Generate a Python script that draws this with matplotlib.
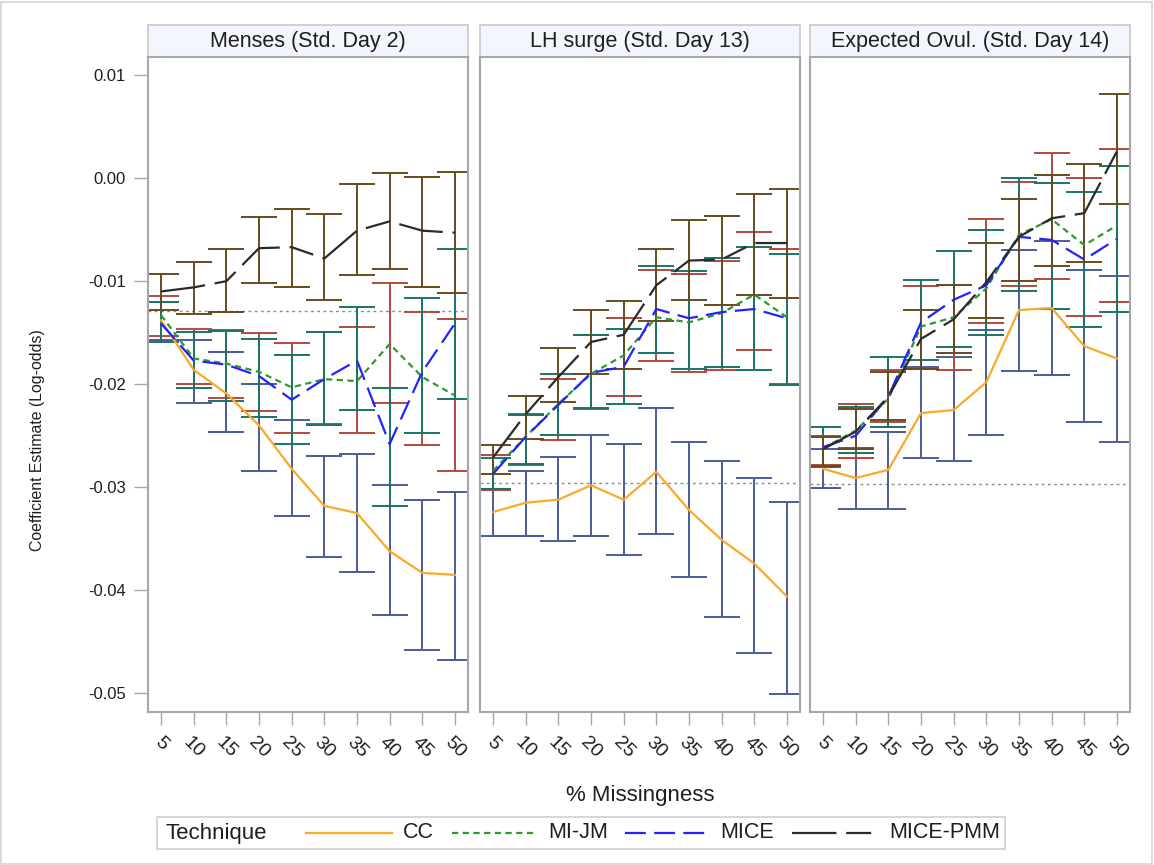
import matplotlib
matplotlib.use("Agg")
import matplotlib.pyplot as plt
from matplotlib.lines import Line2D
from matplotlib.patches import Rectangle
import numpy as np

plt.rcParams['font.family'] = ['Liberation Sans', 'DejaVu Sans']
plt.rcParams['lines.scale_dashes'] = False

# ---------------- data ----------------
missing = [5, 10, 15, 20, 25, 30, 35, 40, 45, 50]
panels = ["Menses (Std. Day 2)", "LH surge (Std. Day 13)", "Expected Ovul. (Std. Day 14)"]
techniques = ["CC", "MI-JM", "MICE", "MICE-PMM"]
true_values = [-0.01285, -0.0296, -0.0297]

# Menses
men_cc_est = [-0.0138, -0.0186, -0.0209, -0.0240, -0.0282, -0.0318, -0.0325, -0.0362, -0.0383, -0.0385]
men_cc_lo = [-0.0157, -0.0218, -0.0246, -0.0284, -0.0328, -0.0368, -0.0382, -0.0424, -0.0458, -0.0468]
men_cc_hi = [-0.0120, -0.0157, -0.0169, -0.0200, -0.0235, -0.0270, -0.0268, -0.0298, -0.0312, -0.0305]
men_jm_est = [-0.0133, -0.0175, -0.0180, -0.0188, -0.0203, -0.0195, -0.0197, -0.0161, -0.0193, -0.0211]
men_jm_lo = [-0.0153, -0.0200, -0.0213, -0.0226, -0.0247, -0.0239, -0.0247, -0.0218, -0.0259, -0.0284]
men_jm_hi = [-0.0114, -0.0146, -0.0147, -0.0150, -0.0160, -0.0149, -0.0144, -0.0102, -0.0130, -0.0137]
men_mi_est = [-0.0141, -0.0177, -0.0181, -0.0192, -0.0215, -0.0195, -0.0177, -0.0258, -0.0188, -0.0141]
men_mi_lo = [-0.0159, -0.0204, -0.0216, -0.0232, -0.0258, -0.0240, -0.0225, -0.0318, -0.0247, -0.0214]
men_mi_hi = [-0.0120, -0.0149, -0.0148, -0.0156, -0.0172, -0.0149, -0.0125, -0.0204, -0.0116, -0.0069]
men_pm_est = [-0.0110, -0.0106, -0.0100, -0.0068, -0.0067, -0.0078, -0.0051, -0.0042, -0.0051, -0.0053]
men_pm_lo = [-0.0128, -0.0132, -0.0130, -0.0102, -0.0106, -0.0118, -0.0094, -0.0088, -0.0106, -0.0111]
men_pm_hi = [-0.0093, -0.0081, -0.0069, -0.0038, -0.0030, -0.0035, -0.0006, 0.0005, 0.0001, 0.0006]

# LH surge
lh_cc_est = [-0.0324, -0.0315, -0.0312, -0.0298, -0.0312, -0.0285, -0.0322, -0.0351, -0.0374, -0.0406]
lh_cc_lo = [-0.0347, -0.0347, -0.0352, -0.0347, -0.0366, -0.0345, -0.0387, -0.0426, -0.0461, -0.0501]
lh_cc_hi = [-0.0302, -0.0284, -0.0271, -0.0249, -0.0258, -0.0223, -0.0256, -0.0274, -0.0291, -0.0314]
lh_jm_est = [-0.0284, -0.0251, -0.0219, -0.0190, -0.0172, -0.0135, -0.0140, -0.0131, -0.0113, -0.0135]
lh_jm_lo = [-0.0303, -0.0278, -0.0254, -0.0224, -0.0211, -0.0177, -0.0188, -0.0186, -0.0167, -0.0200]
lh_jm_hi = [-0.0269, -0.0229, -0.0195, -0.0152, -0.0136, -0.0089, -0.0093, -0.0080, -0.0052, -0.0069]
lh_mi_est = [-0.0287, -0.0251, -0.0220, -0.0189, -0.0183, -0.0127, -0.0136, -0.0130, -0.0127, -0.0136]
lh_mi_lo = [-0.0302, -0.0277, -0.0249, -0.0223, -0.0219, -0.0170, -0.0185, -0.0183, -0.0186, -0.0201]
lh_mi_hi = [-0.0272, -0.0230, -0.0190, -0.0152, -0.0146, -0.0085, -0.0090, -0.0078, -0.0067, -0.0074]
lh_pm_est = [-0.0271, -0.0229, -0.0193, -0.0159, -0.0152, -0.0104, -0.0080, -0.0079, -0.0063, -0.0063]
lh_pm_lo = [-0.0287, -0.0253, -0.0217, -0.0190, -0.0185, -0.0139, -0.0118, -0.0123, -0.0113, -0.0116]
lh_pm_hi = [-0.0259, -0.0211, -0.0165, -0.0128, -0.0119, -0.0069, -0.0041, -0.0037, -0.0015, -0.0011]

# Expected ovulation
ov_cc_est = [-0.0282, -0.0291, -0.0283, -0.0228, -0.0225, -0.0198, -0.0128, -0.0126, -0.0163, -0.0175]
ov_cc_lo = [-0.0301, -0.0321, -0.0321, -0.0272, -0.0274, -0.0249, -0.0187, -0.0191, -0.0237, -0.0256]
ov_cc_hi = [-0.0263, -0.0262, -0.0246, -0.0183, -0.0174, -0.0147, -0.0070, -0.0061, -0.0089, -0.0095]
ov_jm_est = [-0.0262, -0.0245, -0.0214, -0.0144, -0.0135, -0.0107, -0.0055, -0.0040, -0.0065, -0.0046]
ov_jm_lo = [-0.0278, -0.0272, -0.0237, -0.0185, -0.0186, -0.0141, -0.0105, -0.0098, -0.0134, -0.0120]
ov_jm_hi = [-0.0250, -0.0219, -0.0186, -0.0105, -0.0104, -0.0040, -0.0004, 0.0024, 0.0000, 0.0028]
ov_mi_est = [-0.0261, -0.0250, -0.0212, -0.0140, -0.0118, -0.0104, -0.0057, -0.0060, -0.0079, -0.0059]
ov_mi_lo = [-0.0280, -0.0267, -0.0241, -0.0176, -0.0164, -0.0152, -0.0110, -0.0127, -0.0144, -0.0130]
ov_mi_hi = [-0.0241, -0.0222, -0.0174, -0.0099, -0.0071, -0.0050, 0.0000, -0.0005, -0.0013, 0.0012]
ov_pm_est = [-0.0263, -0.0246, -0.0212, -0.0156, -0.0137, -0.0101, -0.0057, -0.0039, -0.0034, 0.0026]
ov_pm_lo = [-0.0279, -0.0263, -0.0235, -0.0185, -0.0170, -0.0136, -0.0100, -0.0085, -0.0081, -0.0025]
ov_pm_hi = [-0.0251, -0.0224, -0.0188, -0.0128, -0.0104, -0.0063, -0.0020, 0.0003, 0.0014, 0.0082]

panel_data = [
    [(men_cc_est, men_cc_lo, men_cc_hi), (men_jm_est, men_jm_lo, men_jm_hi),
     (men_mi_est, men_mi_lo, men_mi_hi), (men_pm_est, men_pm_lo, men_pm_hi)],
    [(lh_cc_est, lh_cc_lo, lh_cc_hi), (lh_jm_est, lh_jm_lo, lh_jm_hi),
     (lh_mi_est, lh_mi_lo, lh_mi_hi), (lh_pm_est, lh_pm_lo, lh_pm_hi)],
    [(ov_cc_est, ov_cc_lo, ov_cc_hi), (ov_jm_est, ov_jm_lo, ov_jm_hi),
     (ov_mi_est, ov_mi_lo, ov_mi_hi), (ov_pm_est, ov_pm_lo, ov_pm_hi)],
]

# ---------------- styles ----------------
line_colors = ["#FBA928", "#2E9A2E", "#2323FF", "#2B2B2B"]
bar_colors = ["#4C5B9E", "#B2493D", "#1A7468", "#6A4A1F"]
line_dashes = [None, (4.5, 3.2), (15.0, 6.0), (32.0, 7.0, 18.0, 7.0)]
frame_color = "#A4A8AC"
text_color = "#1E1E1E"

W, H = 1154, 865
fig = plt.figure(figsize=(W / 100, H / 100), dpi=100)
fig.add_artist(Rectangle((0.001, 0.001), 0.997, 0.997, transform=fig.transFigure,
                         fill=False, edgecolor="#D4D4D4", lw=1.2))

lefts = [148, 480, 810]
pw = 320
top_px, bot_px = 57, 712
axes = []
for i, title in enumerate(panels):
    ax = fig.add_axes([lefts[i] / W, 1 - bot_px / H, pw / W, (bot_px - top_px) / H])
    axes.append(ax)
    x = np.array(missing)
    # error bars
    for k, (est, lo, hi) in enumerate(panel_data[i]):
        est = np.array(est); lo = np.array(lo); hi = np.array(hi)
        ax.errorbar(x, est, yerr=[est - lo, hi - est], fmt='none', ecolor=bar_colors[k],
                    elinewidth=1.4, capsize=13, capthick=1.4, zorder=2)
    # reference line
    ax.axhline(true_values[i], color="#8C8C8C", lw=1.0, ls=(0, (2.0, 2.5)), zorder=1.5)
    # mean lines
    for k, (est, lo, hi) in enumerate(panel_data[i]):
        ln, = ax.plot(x, est, color=line_colors[k], lw=1.6, zorder=3)
        if line_dashes[k] is not None:
            ln.set_dashes(line_dashes[k])
    ax.set_xlim(3.0, 52.0)
    ax.set_ylim(-0.0518, 0.01175)
    ax.set_xticks(missing)
    ax.set_xticklabels([str(m) for m in missing], rotation=-45, ha='center', va='top',
                       fontsize=14, color=text_color)
    ax.tick_params(axis='x', length=9, width=1.0, color=frame_color, pad=7)
    if i == 0:
        ax.set_yticks([0.01, 0.0, -0.01, -0.02, -0.03, -0.04, -0.05])
        ax.set_yticklabels(["0.01", "0.00", "-0.01", "-0.02", "-0.03", "-0.04", "-0.05"],
                           fontsize=12, color=text_color)
        ax.tick_params(axis='y', length=10, width=1.0, color=frame_color, pad=6)
    else:
        ax.set_yticks([])
    for sp in ax.spines.values():
        sp.set_color(frame_color)
        sp.set_linewidth(1.5)
    # strip header
    sh = 32 / (bot_px - top_px)
    ax.add_patch(Rectangle((0, 1.0), 1, sh, transform=ax.transAxes, clip_on=False,
                           facecolor="#F4F6FD", edgecolor="#C6C9CE", lw=1.2))
    ax.text(0.5, 1.0 + sh / 2, title, transform=ax.transAxes, ha='center', va='center',
            fontsize=15.5, color=text_color)

fig.text(38 / W, 1 - 440 / H, "Coefficient Estimate (Log-odds)", rotation=90,
         ha='center', va='center', fontsize=11.4, color=text_color)
fig.text(640 / W, 1 - 795 / H, "% Missingness", ha='center', va='center',
         fontsize=16, color=text_color)

# legend box
lx0, lx1, ly0, ly1 = 157, 1005, 817, 849
fig.add_artist(Rectangle((lx0 / W, 1 - ly1 / H), (lx1 - lx0) / W, (ly1 - ly0) / H,
                         transform=fig.transFigure, fill=False, edgecolor="#CFCFCF", lw=1.2))
yc = 1 - 833 / H
fig.text(166 / W, yc, "Technique", ha='left', va='center', fontsize=16, color=text_color)
seg = [(306, 392), (452, 534), (625, 706), (792, 876)]
lab_x = [403, 548, 720, 889]
for k, tname in enumerate(techniques):
    ln = Line2D([seg[k][0] / W, seg[k][1] / W], [yc, yc], transform=fig.transFigure,
                color=line_colors[k], lw=1.6)
    if line_dashes[k] is not None:
        ln.set_dashes(line_dashes[k])
    fig.add_artist(ln)
    fig.text(lab_x[k] / W, yc, tname, ha='left', va='center', fontsize=15.5, color=text_color)

fig.savefig("out.png", dpi=100, facecolor="white")
